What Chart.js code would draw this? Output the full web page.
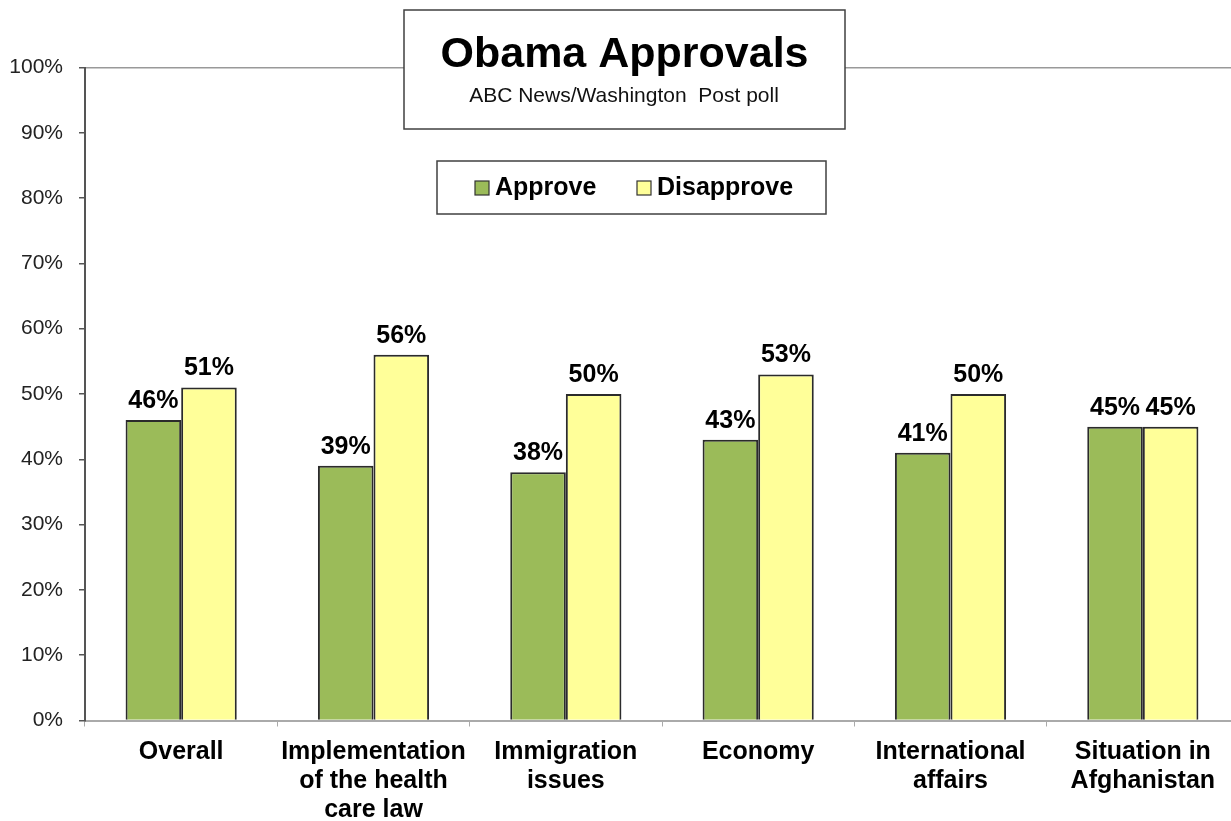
<!DOCTYPE html>
<html>
<head>
<meta charset="utf-8">
<script src="https://cdn.jsdelivr.net/npm/chart.js@4.4.1/dist/chart.umd.min.js"></script>
<style>
  html, body { margin: 0; padding: 0; background: #ffffff; overflow: hidden; }
  #wrap { position: relative; width: 1239px; height: 821px; }
</style>
</head>
<body>
<div id="wrap"><canvas id="c"></canvas></div>
<script>
const categories = [
  ["Overall"],
  ["Implementation", "of the health", "care law"],
  ["Immigration", "issues"],
  ["Economy"],
  ["International", "affairs"],
  ["Situation in", "Afghanistan"]
];
const approve = [46, 39, 38, 43, 41, 45];
const disapprove = [51, 56, 50, 53, 50, 45];
const seriesNames = ["Approve", "Disapprove"];
const titleText = "Obama Approvals";
const subtitleText = "ABC News/Washington  Post poll";

const FONT = '"Liberation Sans", Arial, Helvetica, sans-serif';
const GREEN = '#9BBB59';
const YELLOW = '#FFFF99';

const overlay = {
  id: 'overlay',
  afterDraw(chart) {
    const ctx = chart.ctx;
    ctx.save();
    // data labels
    ctx.font = 'bold 25px ' + FONT;
    ctx.fillStyle = '#000';
    ctx.textAlign = 'center';
    ctx.textBaseline = 'alphabetic';
    chart.data.datasets.forEach((ds, i) => {
      const meta = chart.getDatasetMeta(i);
      meta.data.forEach((bar, j) => {
        ctx.fillText(ds.data[j] + '%', bar.x, bar.y - 12);
      });
    });
    // title box
    ctx.fillStyle = '#fff';
    ctx.fillRect(404, 10, 441, 119);
    ctx.strokeStyle = '#404040';
    ctx.lineWidth = 1.5;
    ctx.strokeRect(404, 10, 441, 119);
    ctx.fillStyle = '#000';
    ctx.font = 'bold 43px ' + FONT;
    ctx.fillText(titleText, 624.5, 67);
    ctx.font = '21px ' + FONT;
    ctx.fillStyle = '#111';
    ctx.fillText(subtitleText, 624, 102);
    // legend box
    ctx.fillStyle = '#fff';
    ctx.fillRect(437, 161, 389, 53);
    ctx.strokeStyle = '#404040';
    ctx.strokeRect(437, 161, 389, 53);
    const items = [
      { sx: 475, tx: 495, color: chart.data.datasets[0].backgroundColor, label: chart.data.datasets[0].label },
      { sx: 637, tx: 657, color: chart.data.datasets[1].backgroundColor, label: chart.data.datasets[1].label }
    ];
    items.forEach(it => {
      ctx.fillStyle = it.color;
      ctx.fillRect(it.sx, 181, 14, 14);
      ctx.strokeStyle = '#333';
      ctx.lineWidth = 1.2;
      ctx.strokeRect(it.sx, 181, 14, 14);
      ctx.fillStyle = '#000';
      ctx.font = 'bold 25px ' + FONT;
      ctx.textAlign = 'left';
      ctx.fillText(it.label, it.tx, 195);
    });
    ctx.restore();
  }
};

new Chart(document.getElementById('c'), {
  type: 'bar',
  data: {
    labels: categories,
    datasets: [
      { label: seriesNames[0], data: approve, backgroundColor: GREEN, borderColor: '#2b2b2b', borderWidth: 2 },
      { label: seriesNames[1], data: disapprove, backgroundColor: YELLOW, borderColor: '#2b2b2b', borderWidth: 2 }
    ]
  },
  options: {
    responsive: true,
    maintainAspectRatio: false,
    animation: false,
    datasets: { bar: { barPercentage: 1.0, categoryPercentage: 0.578 } },
    layout: { padding: { top: 67.5, left: 0, right: 0, bottom: 0 } },
    plugins: { legend: { display: false }, title: { display: false }, tooltip: { enabled: false } },
    scales: {
      x: {
        afterFit(s) { s.height = 100.5; },
        grid: { display: true, drawOnChartArea: false, drawTicks: true, tickLength: 6, tickColor: '#aaa', offset: true },
        border: { color: '#aaa', width: 2 },
        ticks: { color: '#000', font: { family: FONT, size: 25, weight: 'bold', lineHeight: 1.16 }, padding: 11, maxRotation: 0, autoSkip: false }
      },
      y: {
        min: 0, max: 100,
        afterFit(s) { s.width = 85; },
        grid: {
          drawOnChartArea: true, drawTicks: true, tickLength: 6, tickColor: '#555',
          color: (c) => (c.tick && c.tick.value === 100) ? '#999' : 'rgba(0,0,0,0)',
          lineWidth: 1.5
        },
        border: { color: '#555', width: 2 },
        ticks: { stepSize: 10, color: '#222', font: { family: FONT, size: 21 }, padding: 16, callback: (v) => v + '%' }
      }
    }
  },
  plugins: [overlay]
});
</script>
</body>
</html>
